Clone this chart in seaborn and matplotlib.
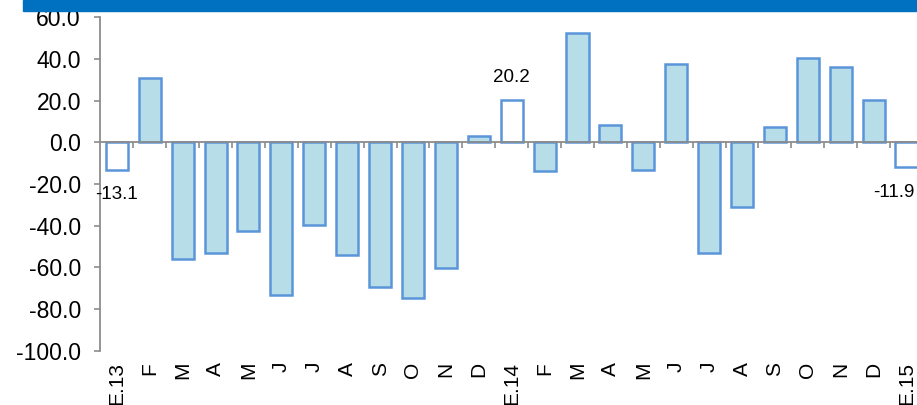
import numpy as np
import pandas as pd
import matplotlib.pyplot as plt
import seaborn as sns
from matplotlib.patches import Rectangle

months = ["E.13", "F", "M", "A", "M", "J", "J", "A", "S", "O", "N", "D",
          "E.14", "F", "M", "A", "M", "J", "J", "A", "S", "O", "N", "D",
          "E.15"]
values = [-13.1, 31.0, -56.0, -53.3, -42.5, -73.3, -39.5, -54.2, -69.5, -74.8,
          -60.2, 3.0, 20.2, -13.5, 52.5, 8.5, -13.0, 37.5, -53.0, -30.8,
          7.5, 40.5, 36.3, 20.3, -11.9]
january = ["E.13", "E.14", "E.15"]

FILL = "#B7DEE8"
EDGE = "#5B95D9"
GREY = "#8C8C8C"
BANNER = "#0070C0"

df = pd.DataFrame({"pos": range(len(months)), "label": months, "value": values})
df["kind"] = np.where(df["label"].isin(january), "enero", "mes")

sns.set_style("white")
plt.rcParams["font.family"] = ["Liberation Sans", "DejaVu Sans"]
plt.rcParams["axes.unicode_minus"] = False
plt.rcParams["text.color"] = "black"
plt.rcParams["xtick.color"] = "black"
plt.rcParams["ytick.color"] = "black"

fig = plt.figure(figsize=(9.17, 4.05), dpi=100)
ax = fig.add_axes([0.1095, 0.1341, 0.897, 0.8227])

sns.barplot(
    data=df, x="pos", y="value", hue="kind",
    palette={"enero": "white", "mes": FILL}, saturation=1,
    dodge=False, width=0.67, edgecolor=EDGE, linewidth=1.8,
    legend=False, ax=ax,
)

ax.set_xlim(-0.5, len(months) - 0.5)
ax.set_ylim(-100, 60)
ax.set_yticks(np.arange(-100, 61, 20))
ax.set_yticklabels([f"{v:.1f}" for v in np.arange(-100, 61, 20)], fontsize=16.5)
ax.set_xlabel("")
ax.set_ylabel("")

# x axis sits on zero, ticks between months, labels at the bottom
ax.spines["bottom"].set_position(("data", 0))
ax.set_xticks(np.arange(0.5, len(months) - 0.5, 1))
ax.set_xticklabels([])
ax.set_xticks(np.arange(len(months)), months, minor=True)
ax.tick_params(axis="x", which="major", bottom=True, direction="out",
               length=4, width=1.2, color=GREY)
ax.tick_params(axis="x", which="minor", bottom=True, length=0, pad=158,
               labelsize=15, labelrotation=90)
for t in ax.get_xticklabels(minor=True):
    t.set_va("top")
ax.tick_params(axis="y", left=True, direction="out", length=4.5, width=1.2,
               color=GREY, pad=9.5)

for s in ["top", "right"]:
    ax.spines[s].set_visible(False)
for s in ["left", "bottom"]:
    ax.spines[s].set_color(GREY)
    ax.spines[s].set_linewidth(1.3)

# value labels for the January bars
for i, (lab, v) in enumerate(zip(months, values)):
    if lab not in january:
        continue
    dx = -9 if i == len(months) - 1 else 0
    dy = 10 if v >= 0 else -12
    ax.annotate(f"{v:.1f}", (i, v), xytext=(dx, dy), textcoords="offset points",
                ha="center", va="bottom" if v >= 0 else "top", fontsize=13.5)

fig.patches.append(Rectangle((23 / 917, 1 - 11 / 405), 1, 11 / 405,
                             transform=fig.transFigure, color=BANNER,
                             zorder=0))

fig.savefig("out.png", dpi=100)
